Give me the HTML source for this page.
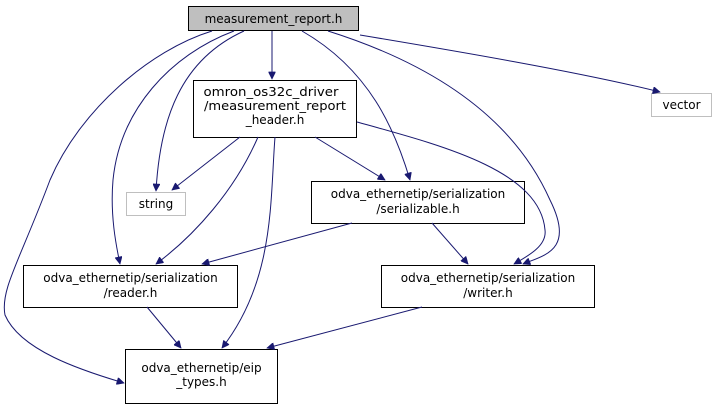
<!DOCTYPE html>
<html><head><meta charset="utf-8"><style>
html,body{margin:0;padding:0;background:#fff;}
svg{display:block;}
text{font-family:"DejaVu Sans","Liberation Sans",sans-serif;font-size:12px;fill:#000;text-anchor:middle;}
.e{fill:none;stroke:#191970;stroke-width:1;}
.n{fill:#fff;stroke:#000;stroke-width:1;}
.g{fill:#fff;stroke:#bfbfbf;stroke-width:1;}
</style></head><body>
<svg width="715" height="409" viewBox="0 0 715 409" xmlns="http://www.w3.org/2000/svg">
<defs><marker id="a" viewBox="0 0 10 10" refX="10" refY="5" markerWidth="10" markerHeight="7" markerUnits="userSpaceOnUse" orient="auto"><path d="M0,0 L10,5 L0,10 z" fill="#191970" stroke="#191970"/></marker></defs>
<!-- nodes -->
<rect x="188.5" y="6.5" width="170" height="24" fill="#bfbfbf" stroke="#000"/>
<text x="273.5" y="23">measurement_report.h</text>
<rect class="n" x="193.5" y="80.5" width="163" height="57"/>
<text x="271" y="96" textLength="135" lengthAdjust="spacingAndGlyphs">omron_os32c_driver</text>
<text x="275" y="110" textLength="142" lengthAdjust="spacingAndGlyphs">/measurement_report</text>
<text x="275" y="124">_header.h</text>
<rect class="g" x="651.5" y="93.5" width="60" height="23"/>
<text x="681.5" y="109">vector</text>
<rect class="g" x="126.5" y="192.5" width="59" height="23"/>
<text x="156" y="208">string</text>
<rect class="n" x="311.5" y="181.5" width="213" height="42"/>
<text x="418" y="198">odva_ethernetip/serialization</text>
<text x="418" y="213">/serializable.h</text>
<rect class="n" x="23.5" y="265.5" width="214" height="42"/>
<text x="130.5" y="282">odva_ethernetip/serialization</text>
<text x="130.5" y="297">/reader.h</text>
<rect class="n" x="381.5" y="265.5" width="213" height="42"/>
<text x="488" y="282">odva_ethernetip/serialization</text>
<text x="488" y="297">/writer.h</text>
<rect class="n" x="125.5" y="349.5" width="152" height="54"/>
<text x="201.5" y="372">odva_ethernetip/eip</text>
<text x="201.5" y="386">_types.h</text>
<!-- edges -->
<path class="e" marker-end="url(#a)" d="M272,31 L272,79"/>
<path class="e" marker-end="url(#a)" d="M360,35 C450,50 580,72 660,92"/>
<path class="e" marker-end="url(#a)" d="M244,31 C180,60 160,120 156,191"/>
<path class="e" marker-end="url(#a)" d="M234,31 C170,55 120,110 113,180 C110,215 116,245 120,264"/>
<path class="e" marker-end="url(#a)" d="M212,31 C150,50 80,110 50,180 C20,260 0,290 5,315 C20,350 80,370 124,383"/>
<path class="e" marker-end="url(#a)" d="M302,31 C370,70 395,130 410,180"/>
<path class="e" marker-end="url(#a)" d="M328,31 C420,60 510,110 550,200 C575,250 545,255 523,264"/>
<path class="e" marker-end="url(#a)" d="M240,137 L172,190"/>
<path class="e" marker-end="url(#a)" d="M258,137 C235,190 195,235 156,264"/>
<path class="e" marker-end="url(#a)" d="M275,137 C270,200 275,280 222,348"/>
<path class="e" marker-end="url(#a)" d="M315,137 L385,180"/>
<path class="e" marker-end="url(#a)" d="M357,122 C440,145 540,170 545,230 C547,245 530,255 514,264"/>
<path class="e" marker-end="url(#a)" d="M352,223 L202,264"/>
<path class="e" marker-end="url(#a)" d="M432,223 L468,264"/>
<path class="e" marker-end="url(#a)" d="M147,307 L181,348"/>
<path class="e" marker-end="url(#a)" d="M422,307 L267,348"/>
</svg>
</body></html>
